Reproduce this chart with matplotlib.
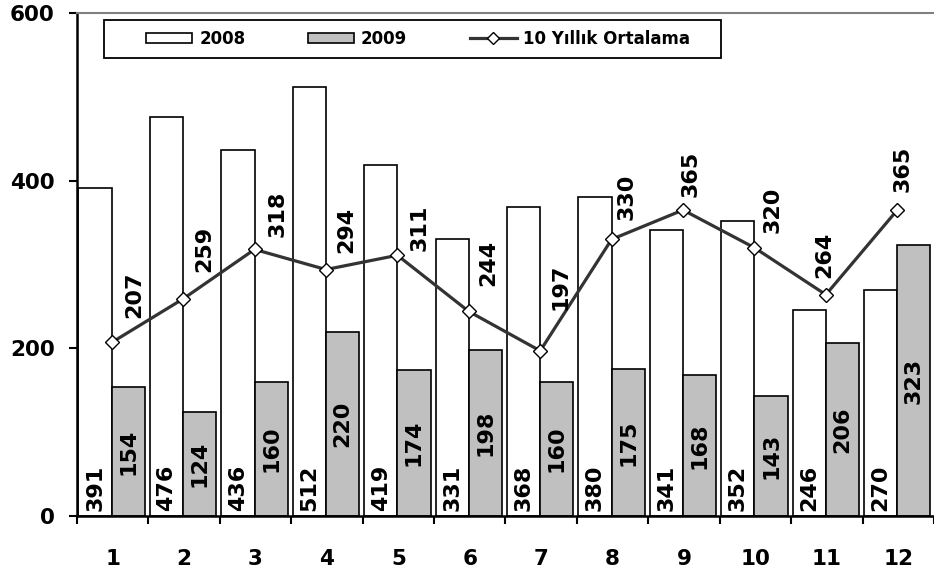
import matplotlib
matplotlib.use("Agg")
import matplotlib.pyplot as plt
from matplotlib.lines import Line2D
from matplotlib.patches import Patch, Rectangle
import numpy as np

months = ["1", "2", "3", "4", "5", "6", "7", "8", "9", "10", "11", "12"]
y2008 = [391, 476, 436, 512, 419, 331, 368, 380, 341, 352, 246, 270]
y2009 = [154, 124, 160, 220, 174, 198, 160, 175, 168, 143, 206, 323]
avg10 = [207, 259, 318, 294, 311, 244, 197, 330, 365, 320, 264, 365]
yticks = [0, 200, 400, 600]

# label placement offsets for the average-line labels (pixels: right, up)
lab_dx = [23, 21, 23, 20, 22, 19, 20, 15, 8, 18, -2, 5]
lab_dy = [24, 27, 12, 17, 4, 25, 41, 19, 13, 15, 17, 18]

plt.rcParams['font.family'] = ['DejaVu Sans']
plt.rcParams['font.weight'] = 'bold'

fig = plt.figure(figsize=(9.34, 5.74), dpi=100)
ax = fig.add_axes([77/934, 1-516/574, 1-77/934, (516-13)/574])

x = np.arange(len(months))
split = 0.486
w1 = split - 0.02
w2 = 0.95 - split
ax.bar(x + 0.02, y2008, width=w1, align='edge', color='white', edgecolor='black', linewidth=1.2, zorder=2)
ax.bar(x + split, y2009, width=w2, align='edge', color='#C0C0C0', edgecolor='black', linewidth=1.2, zorder=2)
ax.plot(x + split, avg10, color='#333333', linewidth=2.3, marker='D', markersize=7,
        markerfacecolor='white', markeredgecolor='black', markeredgewidth=1.0, zorder=4)

px2pt = 72 / 100
for i in range(len(months)):
    ax.text(x[i] + 0.02 + w1/2, 6, str(y2008[i]), rotation=90, ha='center', va='bottom',
            fontsize=16, fontweight='bold', zorder=5)
    ax.text(x[i] + split + w2/2, y2009[i]/2, str(y2009[i]), rotation=90, ha='center', va='center',
            fontsize=16, fontweight='bold', zorder=5)
    ax.annotate(str(avg10[i]), (x[i] + split, avg10[i]),
                xytext=(lab_dx[i] * px2pt, lab_dy[i] * px2pt), textcoords='offset points',
                rotation=90, ha='center', va='bottom', fontsize=16, fontweight='bold', zorder=5)

ax.set_xlim(0, 12)
ax.set_ylim(0, 600)
ax.set_yticks(yticks)
ax.set_yticklabels([str(v) for v in yticks], fontsize=15.5, fontweight='bold')
ax.set_xticks(np.arange(13))
ax.set_xticklabels([''] * 13)
ax.set_xticks(x + 0.5, minor=True)
ax.set_xticklabels(months, minor=True, fontsize=15.5, fontweight='bold')
ax.tick_params(axis='x', which='major', length=6, width=1.5, direction='out')
ax.tick_params(axis='x', which='minor', length=0, pad=24)
ax.tick_params(axis='y', length=6, width=1.5, direction='out', pad=10)

ax.spines['right'].set_visible(False)
ax.spines['left'].set_linewidth(1.8)
ax.spines['bottom'].set_linewidth(1.8)
ax.spines['top'].set_color('#808080')
ax.spines['top'].set_linewidth(1.5)

# legend box
box = Rectangle((104/934, 1-58/574), (721-104)/934, 38/574, transform=fig.transFigure,
                facecolor='white', edgecolor='black', linewidth=1.3, zorder=10)
fig.patches.append(box)

handles = [Patch(facecolor='white', edgecolor='black', linewidth=1.2),
           Patch(facecolor='#C0C0C0', edgecolor='black', linewidth=1.2),
           Line2D([0], [0], color='#333333', linewidth=2.3, marker='D', markersize=6,
                  markerfacecolor='white', markeredgecolor='black', markeredgewidth=1.0)]
labels = ['2008', '2009', '10 Yıllık Ortalama']
leg = fig.legend(handles, labels, ncol=3, loc='center',
                 bbox_to_anchor=(418/934, 1-39/574),
                 bbox_transform=fig.transFigure,
                 prop={'size': 12, 'weight': 'bold'}, frameon=False,
                 handlelength=2.8, handleheight=0.6, handletextpad=0.4,
                 columnspacing=3.75, borderpad=0, borderaxespad=0)
leg.set_zorder(11)

fig.savefig('out.png', dpi=100)
